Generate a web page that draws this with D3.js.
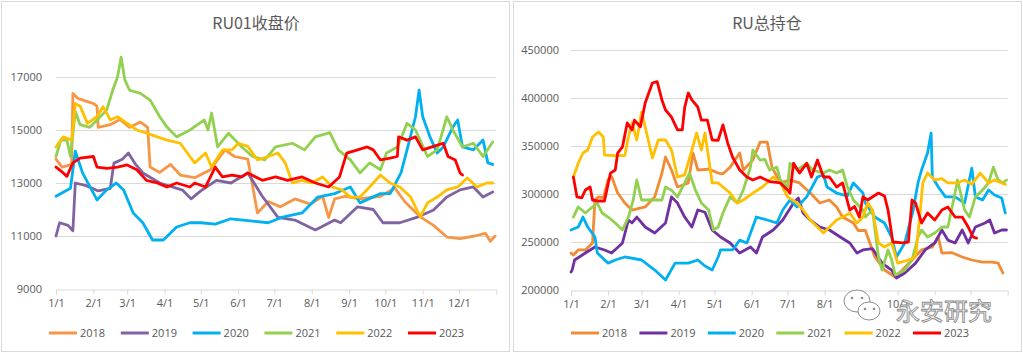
<!DOCTYPE html>
<html>
<head>
<meta charset="utf-8">
<script src="https://cdn.jsdelivr.net/npm/d3@7"></script>
<style>
  html, body { margin: 0; padding: 0; background: #fff; }
  svg { display: block; }
</style>
</head>
<body>
<div id="chart"></div>
<script>
// series years / colours
const years = ['2018', '2019', '2020', '2021', '2022', '2023'];
const leftColors = ['#F79646', '#8064A2', '#00B0F0', '#92D050', '#FFC000', '#FF0000'];
const rightColors = ['#F28B35', '#7030A0', '#00B0F0', '#92D050', '#FFC000', '#FF0000'];

// tick values
const priceTicks = [9000, 11000, 13000, 15000, 17000];
const oiTicks = [200000, 250000, 300000, 350000, 400000, 450000];
const monthTicks = d3.range(12).map(m => new Date(2023, m, 1));
// month labels hidden under the watermark on the right panel
const hiddenRight = ['9/1', '11/1', '12/1'];

// RU01 close, [day of year, price]
const price2018 = [[0,13900],[5,13600],[9,13650],[13,13700],[14,16380],[18,16200],[24,16100],[31,16000],[34,15900],[35,15100],[45,15200],[53,15400],[61,15100],[70,15300],[76,15100],[78,13600],[86,13400],[95,13700],[103,13300],[115,13200],[128,13500],[140,14250],[148,14000],[159,13900],[167,11870],[176,12300],[186,12100],[198,12400],[211,12200],[221,12500],[226,11700],[231,12400],[240,12500],[252,12400],[269,12500],[281,12800],[289,12300],[302,11720],[313,11400],[324,10960],[335,10900],[347,11000],[356,11100],[360,10800],[364,11000]];
const price2019 = [[0,11000],[3,11500],[10,11400],[14,11200],[16,13000],[25,12900],[35,12700],[45,12800],[48,13750],[55,13900],[60,14130],[66,13700],[72,13380],[86,13000],[105,12730],[112,12400],[120,12700],[133,13100],[145,13000],[159,13380],[171,12500],[184,11700],[198,11600],[215,11230],[231,11600],[236,11500],[250,12100],[263,12000],[271,11500],[285,11500],[299,11700],[313,11980],[324,12470],[335,12740],[346,12850],[354,12470],[362,12660]];
const price2020 = [[0,12500],[12,12800],[16,14200],[22,13380],[34,12360],[42,12740],[50,13000],[56,12740],[64,11870],[72,11500],[80,10850],[89,10850],[100,11340],[111,11500],[120,11500],[132,11450],[145,11650],[165,11550],[176,11500],[187,11700],[204,11870],[217,12470],[231,12600],[236,12700],[244,12850],[252,12250],[269,12600],[277,12600],[286,13380],[291,14250],[298,15500],[301,16500],[304,15500],[310,14740],[316,14130],[321,14360],[329,15110],[333,15380],[337,14360],[346,14250],[354,14620],[358,13760],[362,13700]];
const price2021 = [[0,14000],[4,14620],[9,14620],[12,14000],[16,15700],[20,15200],[28,15100],[34,15380],[42,15750],[47,16500],[51,17000],[54,17750],[57,16900],[61,16500],[70,16380],[78,16130],[86,15500],[92,15110],[100,14740],[111,15000],[123,15380],[126,15000],[129,15640],[134,14360],[143,14880],[154,14360],[163,14000],[173,13870],[182,14360],[196,14500],[206,14250],[215,14740],[227,14900],[234,14250],[244,13870],[252,13380],[260,13760],[269,13500],[274,14130],[283,14360],[291,15250],[298,15000],[308,14000],[316,14250],[324,15500],[329,15000],[337,14360],[346,14500],[354,14000],[362,14550]];
const price2022 = [[0,14360],[6,14740],[13,14620],[16,16000],[20,15900],[26,15250],[34,15500],[39,15880],[45,15380],[51,15500],[59,15250],[67,15000],[75,14880],[84,14740],[92,14620],[103,14500],[111,14000],[115,13760],[124,14130],[129,13600],[138,14250],[146,14250],[151,14500],[159,14380],[167,13870],[176,14000],[184,14130],[190,13760],[196,13000],[204,13100],[212,13000],[221,13230],[229,12850],[237,12740],[244,12470],[252,12470],[260,12850],[269,13300],[277,13000],[285,12850],[294,12470],[302,11720],[308,12250],[316,12470],[324,12740],[333,12850],[341,13190],[349,12850],[357,13000],[362,13000]];
const price2023 = [[0,13600],[6,13380],[9,13250],[14,13760],[20,13940],[31,14000],[34,13600],[42,13550],[51,13600],[59,13680],[67,13500],[75,13100],[84,13000],[92,12850],[100,13000],[111,12850],[115,13000],[124,12850],[132,13600],[138,13230],[146,13300],[154,13230],[159,13380],[171,13100],[182,13230],[192,13100],[204,13230],[215,13000],[226,12850],[235,13230],[241,14130],[250,14250],[258,14360],[263,14250],[269,13870],[277,13940],[283,14000],[284,14740],[291,14620],[298,14740],[304,14250],[313,14380],[321,14500],[325,14000],[331,13870],[335,13380],[337,13300]];

// RU total open interest, [day of year, lots]
const oi2018 = [[0,238500],[2,236500],[6,241700],[12,241700],[18,249000],[20,293750],[23,297000],[27,296000],[31,315000],[34,318000],[39,301000],[45,290600],[51,283300],[62,286500],[70,297000],[76,321800],[79,338500],[84,325000],[89,307300],[98,311500],[102,342700],[106,325000],[115,326000],[123,321800],[127,321000],[133,328000],[141,342700],[144,325000],[152,335400],[158,354000],[164,354000],[168,328000],[175,311500],[183,314500],[191,311500],[200,301000],[208,290600],[216,293750],[222,286500],[227,276000],[236,269800],[240,262000],[246,262000],[254,234400],[262,220800],[271,213500],[277,220800],[285,231250],[293,241700],[302,244800],[307,255200],[310,238500],[318,239000],[327,234400],[335,231250],[344,229000],[352,229000],[357,228000],[361,217700]];
const oi2019 = [[0,218750],[1,220800],[3,231250],[12,238500],[20,244800],[28,241700],[34,238500],[43,249000],[48,272900],[51,270000],[55,276000],[62,265600],[70,259400],[79,269800],[84,297000],[89,290600],[95,276000],[101,265600],[106,283300],[112,281000],[118,262500],[125,255200],[133,249000],[141,238500],[150,244800],[155,238500],[160,255200],[169,262500],[177,272900],[186,290600],[190,295800],[194,280200],[200,272900],[208,265600],[216,262500],[225,255200],[233,249000],[239,238500],[244,241700],[252,243000],[260,228000],[268,220800],[272,212500],[279,217700],[288,228000],[296,241700],[304,249000],[310,262500],[315,252000],[321,249000],[327,262500],[332,249000],[338,265600],[346,269800],[350,272900],[354,259400],[360,262500],[364,262500]];
const oi2020 = [[0,262500],[6,265600],[10,276000],[14,265600],[20,255200],[22,238500],[31,228000],[37,231250],[45,234400],[59,231250],[70,220800],[79,210400],[87,228000],[98,228000],[106,231250],[112,225000],[118,220800],[123,234400],[125,241700],[135,241700],[141,252000],[147,249000],[155,276000],[164,272900],[172,269800],[177,283300],[183,293750],[189,286500],[197,297000],[206,317700],[211,320000],[214,307300],[222,301000],[231,298000],[236,311500],[244,301000],[246,290600],[254,276000],[262,269800],[268,255200],[272,234400],[279,249000],[286,283300],[290,311500],[293,325000],[298,342700],[301,363500],[302,317700],[307,307300],[313,297000],[321,297000],[329,290600],[335,327000],[338,297000],[344,293750],[349,304200],[354,299000],[360,295800],[363,280200]];
const oi2021 = [[2,276000],[6,286500],[12,280200],[18,286500],[22,290600],[26,280200],[31,276000],[37,269800],[43,262500],[48,276000],[52,293750],[55,314600],[59,293750],[68,293750],[76,293750],[79,307300],[84,304000],[89,297000],[95,311500],[99,321800],[104,304000],[109,290600],[115,283300],[119,262500],[123,265600],[127,280200],[133,297000],[139,290600],[144,304200],[150,328000],[152,345800],[158,335400],[162,336000],[166,325000],[172,328000],[175,314600],[181,307300],[183,332000],[189,325000],[197,332000],[202,325000],[211,321800],[216,325000],[222,321800],[227,325000],[231,307300],[236,293750],[244,283300],[246,276000],[252,283300],[257,234400],[260,220800],[265,241700],[268,231250],[271,215600],[279,220800],[285,231250],[290,255200],[293,262500],[298,255200],[304,259400],[310,265600],[315,265600],[321,301000],[323,314600],[329,283300],[333,276000],[338,297000],[344,304200],[349,311500],[353,328000],[357,314600],[361,311500],[364,314600]];
const oi2022 = [[2,317700],[6,332000],[10,342700],[14,345800],[18,359400],[23,364600],[27,359400],[28,340600],[37,340000],[45,340000],[48,359400],[51,374000],[55,356250],[59,385400],[64,359400],[68,337500],[73,356250],[79,356250],[84,345800],[89,317700],[95,320000],[101,345800],[105,363500],[109,345800],[112,363500],[118,311500],[123,311500],[127,307300],[133,301000],[139,290600],[144,293750],[152,301000],[160,307300],[169,317700],[175,311500],[181,297000],[189,290600],[194,283300],[200,272900],[206,265600],[211,259400],[216,265600],[222,272900],[227,276000],[233,280000],[239,269800],[244,276000],[248,290600],[252,283300],[257,249000],[262,244800],[268,249000],[273,228000],[282,231250],[288,234400],[292,283300],[294,311500],[298,321800],[304,314600],[310,316000],[315,311500],[323,311500],[329,314600],[335,310000],[342,321800],[349,311500],[354,314600],[360,311500],[363,310000]];
const oi2023 = [[2,317700],[5,297000],[9,296000],[12,304200],[16,307300],[18,293750],[23,292700],[28,292700],[33,321800],[37,325000],[39,342700],[43,349000],[47,374000],[51,366700],[53,377000],[58,370000],[62,394800],[68,415600],[72,417000],[76,398000],[79,387500],[84,380000],[89,366700],[93,366700],[95,390000],[98,405200],[101,398000],[106,390600],[109,377000],[114,377000],[118,356250],[123,356000],[127,372000],[131,353000],[135,338500],[141,325000],[147,317700],[152,314600],[158,317700],[166,313000],[175,311500],[181,304200],[183,301000],[186,332000],[191,321800],[197,332000],[201,317700],[206,335400],[211,317700],[216,317700],[222,307300],[227,311500],[233,283300],[237,287000],[241,276000],[244,297000],[248,293750],[257,301000],[262,298000],[265,283300],[269,250000],[277,249000],[282,250000],[285,293750],[288,290600],[293,269800],[298,280200],[304,272900],[310,283300],[315,286500],[321,276000],[327,276000],[332,265600],[336,255200],[339,254000]];

const width = 1023;
const height = 354;
const font = '"Open Sans", "Noto Sans", sans-serif';
const cjk = '"Noto Sans CJK SC", "Noto Sans", sans-serif';
const textColor = '#595959';
const gridColor = '#D9D9D9';

const yearStart = new Date(2023, 0, 1);
const toDate = d => d3.timeDay.offset(yearStart, d);
const fmt = d3.timeFormat('%-m/%-d');

const svg = d3.select('#chart')
    .append('svg')
    .attr('width', width)
    .attr('height', height);

function drawPanel (cfg) {
    const g = svg.append('g');

    // panel frame
    g.append('rect')
        .attr('x', cfg.frame[0] + 0.5).attr('y', 1.5)
        .attr('width', cfg.frame[1]).attr('height', 350)
        .attr('fill', '#fff').attr('stroke', gridColor);

    g.append('text')
        .attr('x', cfg.titleX).attr('y', 29)
        .attr('text-anchor', 'middle')
        .attr('font-family', cjk).attr('font-size', 16)
        .attr('fill', textColor)
        .text(cfg.title);

    const x = d3.scaleTime()
        .domain([yearStart, new Date(2024, 0, 1)])
        .range(cfg.xRange);
    const y = d3.scaleLinear()
        .domain(cfg.yDomain)
        .range(cfg.yRange);

    // gridlines
    g.append('g').selectAll('line')
        .data(cfg.yTicks.slice(1))
        .join('line')
        .attr('x1', cfg.xRange[0]).attr('x2', cfg.xRange[1])
        .attr('y1', d => Math.round(y(d)) + 0.5).attr('y2', d => Math.round(y(d)) + 0.5)
        .attr('stroke', gridColor).attr('stroke-width', 1);

    // y labels
    g.append('g').selectAll('text')
        .data(cfg.yTicks)
        .join('text')
        .attr('x', cfg.yLabelX)
        .attr('y', d => y(d) + 4)
        .attr('text-anchor', 'end')
        .attr('font-family', font).attr('font-size', 11)
        .attr('fill', textColor)
        .text(d => d);

    // x axis
    const xAxis = d3.axisBottom(x)
        .tickValues(monthTicks)
        .tickFormat(d => cfg.hidden.includes(fmt(d)) ? '' : fmt(d))
        .tickSize(5)
        .tickSizeOuter(5)
        .tickPadding(5);
    const ax = g.append('g')
        .attr('transform', `translate(0,${Math.round(cfg.yRange[0]) + 0.5})`)
        .call(xAxis);
    ax.select('.domain').attr('stroke', gridColor);
    ax.selectAll('.tick line').attr('stroke', gridColor);
    ax.selectAll('.tick text')
        .attr('fill', textColor)
        .attr('font-family', font).attr('font-size', 11);

    // series lines
    const line = d3.line()
        .x(d => x(toDate(d[0])))
        .y(d => y(d[1]));
    g.append('g').selectAll('path')
        .data(cfg.series)
        .join('path')
        .attr('d', d => line(d))
        .attr('fill', 'none')
        .attr('stroke', (d, i) => cfg.colors[i])
        .attr('stroke-width', 2.8)
        .attr('stroke-linejoin', 'round')
        .attr('stroke-linecap', 'round');

    // legend
    const lg = g.append('g').selectAll('g')
        .data(years)
        .join('g')
        .attr('transform', (d, i) => `translate(${cfg.legendX + i * cfg.legendStep},333)`);
    lg.append('line')
        .attr('x1', 0).attr('x2', 28)
        .attr('stroke', (d, i) => cfg.colors[i])
        .attr('stroke-width', 3);
    lg.append('text')
        .attr('x', 31).attr('y', 4)
        .attr('font-family', font).attr('font-size', 11)
        .attr('fill', textColor)
        .text(d => d);
}

drawPanel({
    frame: [1, 508],
    title: 'RU01收盘价',
    titleX: 256,
    xRange: [56, 496.3],
    yDomain: [9000, 17000],
    yRange: [289, 77],
    yTicks: priceTicks,
    yLabelX: 42,
    hidden: [],
    series: [price2018, price2019, price2020, price2021, price2022, price2023],
    colors: leftColors,
    legendX: 49,
    legendStep: 71.8
});

drawPanel({
    frame: [513, 508],
    title: 'RU总持仓',
    titleX: 767,
    xRange: [571, 1007.7],
    yDomain: [200000, 450000],
    yRange: [290, 50],
    yTicks: oiTicks,
    yLabelX: 559,
    hidden: hiddenRight,
    series: [oi2018, oi2019, oi2020, oi2021, oi2022, oi2023],
    colors: rightColors,
    legendX: 571,
    legendStep: 68.4
});

// watermark: chat icon + text
const wm = svg.append('g').attr('fill', '#fff').attr('stroke', '#8c8c8c').attr('stroke-width', 1);
wm.append('ellipse').attr('cx', 857).attr('cy', 301).attr('rx', 13).attr('ry', 11);
wm.append('ellipse').attr('cx', 869).attr('cy', 311).attr('rx', 11).attr('ry', 9);
wm.selectAll('circle')
    .data([[852, 298], [862, 298], [865, 309], [874, 309]])
    .join('circle')
    .attr('cx', d => d[0]).attr('cy', d => d[1]).attr('r', 1.3)
    .attr('fill', '#8c8c8c').attr('stroke', 'none');
wm.append('text')
    .attr('x', 896).attr('y', 320)
    .attr('font-family', cjk).attr('font-size', 24)
    .attr('stroke-width', 0.9)
    .text('永安研究');
</script>
</body>
</html>
